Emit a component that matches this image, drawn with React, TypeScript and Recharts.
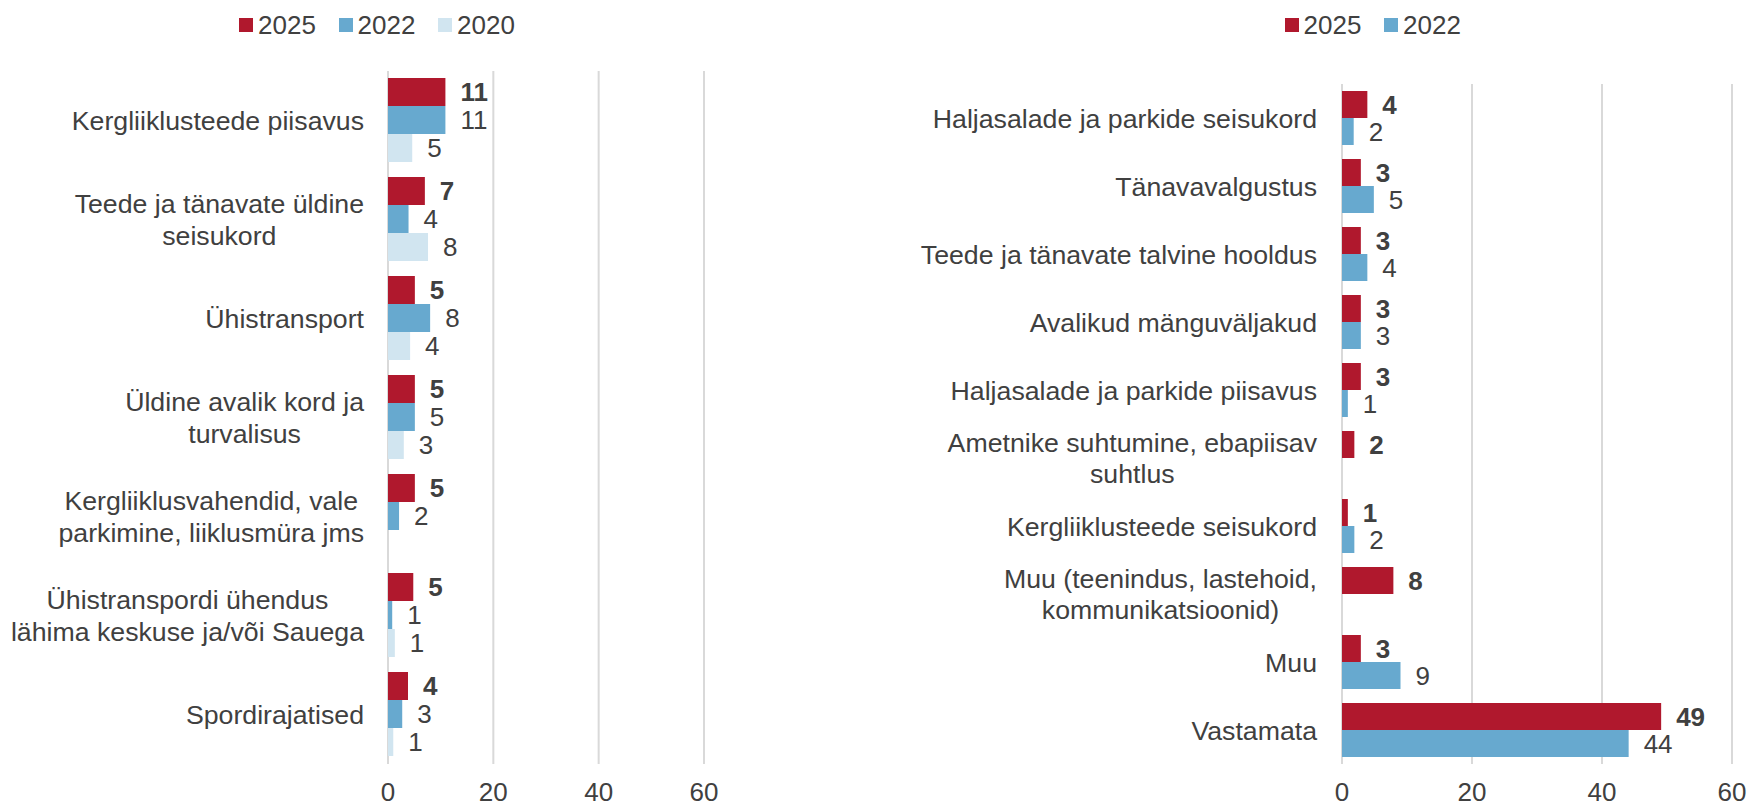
import React from 'react';
import { BarChart, Bar, XAxis, YAxis, CartesianGrid, LabelList, Legend } from 'recharts';

const FONT = "'Liberation Sans', Arial, Helvetica, sans-serif";
const TEXT = '#404040';
const GRID = '#d9d9d9';
const FS = 26;
const CAT_FS = 26.7;

// ---------- Left chart data ----------
const leftCategories = [
  'Kergliiklusteede piisavus',
  'Teede ja tänavate üldine\nseisukord',
  'Ühistransport',
  'Üldine avalik kord ja\nturvalisus',
  'Kergliiklusvahendid, vale\nparkimine, liiklusmüra jms',
  'Ühistranspordi ühendus\nlähima keskuse ja/või Sauega',
  'Spordirajatised',
];
const left2025 = [10.9, 7.0, 5.1, 5.1, 5.1, 4.8, 3.8];
const left2022 = [10.9, 3.9, 8.0, 5.1, 2.1, 0.8, 2.7];
const left2020 = [4.6, 7.6, 4.2, 3.0, null, 1.3, 1.0];

// ---------- Right chart data ----------
const rightCategories = [
  'Haljasalade ja parkide seisukord',
  'Tänavavalgustus',
  'Teede ja tänavate talvine hooldus',
  'Avalikud mänguväljakud',
  'Haljasalade ja parkide piisavus',
  'Ametnike suhtumine, ebapiisav\nsuhtlus',
  'Kergliiklusteede seisukord',
  'Muu (teenindus, lastehoid,\nkommunikatsioonid)',
  'Muu',
  'Vastamata',
];
const right2025 = [3.9, 2.9, 2.9, 2.9, 2.9, 1.9, 0.9, 7.9, 2.9, 49.1];
const right2022 = [1.8, 4.9, 3.9, 2.9, 0.9, null, 1.9, null, 9.0, 44.1];

const xTicks = [0, 20, 40, 60];
const seriesNames = ['2025', '2022', '2020'];
const seriesColors = ['#B0182D', '#67A9CF', '#D1E5F0'];

const leftData = leftCategories.map((name, i) => ({
  name,
  s2025: left2025[i],
  s2022: left2022[i],
  s2020: left2020[i],
}));
const rightData = rightCategories.map((name, i) => ({
  name,
  s2025: right2025[i],
  s2022: right2022[i],
}));

let ctx: CanvasRenderingContext2D | null = null;
function textWidth(s: string): number {
  if (!ctx && typeof document !== 'undefined') {
    ctx = document.createElement('canvas').getContext('2d');
  }
  if (!ctx) return s.length * CAT_FS * 0.5;
  ctx.font = `${CAT_FS}px ${FONT}`;
  return ctx.measureText(s).width;
}

function CategoryTick(props: any) {
  const { x, y, payload } = props;
  const lines = String(payload.value).split('\n');
  const w = Math.max(...lines.map(textWidth));
  const cx = x - w / 2;
  const lh = 31.5;
  const first = y + CAT_FS * 0.358 - ((lines.length - 1) * lh) / 2;
  return (
    <text textAnchor="middle" fontFamily={FONT} fontSize={CAT_FS} fill={TEXT}>
      {lines.map((l, i) => (
        <tspan key={i} x={cx} y={first + i * lh}>
          {l}
        </tspan>
      ))}
    </text>
  );
}

function makeValueLabel(bold: boolean) {
  return (props: any) => {
    const { x, y, width, height, value } = props;
    if (value === null || value === undefined) return null;
    return (
      <text
        x={Number(x) + Number(width) + 15}
        y={Number(y) + Number(height) / 2}
        dy="0.358em"
        textAnchor="start"
        fontFamily={FONT}
        fontSize={FS}
        fontWeight={bold ? 'bold' : 'normal'}
        fill={TEXT}
      >
        {Math.round(Number(value))}
      </text>
    );
  };
}

function LegendContent(props: any) {
  const payload = [...(props.payload || [])].sort(
    (a: any, b: any) => seriesNames.indexOf(String(a.value)) - seriesNames.indexOf(String(b.value))
  );
  return (
    <div style={{ display: 'flex', alignItems: 'center', height: 30 }}>
      {payload.map((p: any, i: number) => (
        <div key={i} style={{ display: 'flex', alignItems: 'center', width: 99.5 }}>
          <div style={{ width: 14, height: 14, background: p.color, marginRight: 5 }} />
          <span style={{ fontFamily: FONT, fontSize: FS, color: TEXT, lineHeight: '30px' }}>{p.value}</span>
        </div>
      ))}
    </div>
  );
}

export default function App() {
  return (
    <div style={{ position: 'absolute', left: 0, top: 0, width: 1750, height: 807, background: '#fff' }}>
      <div style={{ position: 'absolute', left: 0, top: 0 }}>
        <BarChart
          width={760}
          height={807}
          data={leftData}
          layout="vertical"
          margin={{ top: 71, right: 56, bottom: 0, left: 0 }}
          barCategoryGap={7}
          barGap={0}
        >
          <CartesianGrid horizontal={false} stroke={GRID} strokeWidth={2} />
          <XAxis
            type="number"
            domain={[0, 60]}
            ticks={xTicks}
            axisLine={false}
            tickLine={false}
            tickSize={0}
            tickMargin={19}
            height={43}
            tick={{ fontFamily: FONT, fontSize: FS, fill: TEXT }}
          />
          <YAxis
            type="category"
            dataKey="name"
            width={388}
            axisLine={false}
            tickLine={false}
            tickSize={0}
            tickMargin={24}
            interval={0}
            tick={<CategoryTick />}
          />
          <Legend
            layout="horizontal"
            verticalAlign="middle"
            align="center"
            wrapperStyle={{ position: 'absolute', top: 10, left: 239, width: 320, height: 30 }}
            content={<LegendContent />}
          />
          <Bar dataKey="s2025" name={seriesNames[0]} fill={seriesColors[0]} isAnimationActive={false}>
            <LabelList dataKey="s2025" content={makeValueLabel(true)} />
          </Bar>
          <Bar dataKey="s2022" name={seriesNames[1]} fill={seriesColors[1]} isAnimationActive={false}>
            <LabelList dataKey="s2022" content={makeValueLabel(false)} />
          </Bar>
          <Bar dataKey="s2020" name={seriesNames[2]} fill={seriesColors[2]} isAnimationActive={false}>
            <LabelList dataKey="s2020" content={makeValueLabel(false)} />
          </Bar>
        </BarChart>
      </div>
      <div style={{ position: 'absolute', left: 870, top: 0 }}>
        <BarChart
          width={880}
          height={807}
          data={rightData}
          layout="vertical"
          margin={{ top: 84, right: 18, bottom: 0, left: 0 }}
          barCategoryGap={7}
          barGap={0}
        >
          <CartesianGrid horizontal={false} stroke={GRID} strokeWidth={2} />
          <XAxis
            type="number"
            domain={[0, 60]}
            ticks={xTicks}
            axisLine={false}
            tickLine={false}
            tickSize={0}
            tickMargin={19}
            height={43}
            tick={{ fontFamily: FONT, fontSize: FS, fill: TEXT }}
          />
          <YAxis
            type="category"
            dataKey="name"
            width={472}
            axisLine={false}
            tickLine={false}
            tickSize={0}
            tickMargin={25}
            interval={0}
            tick={<CategoryTick />}
          />
          <Legend
            layout="horizontal"
            verticalAlign="middle"
            align="center"
            wrapperStyle={{ position: 'absolute', top: 10, left: 414.6, width: 220, height: 30 }}
            content={<LegendContent />}
          />
          <Bar dataKey="s2025" name={seriesNames[0]} fill={seriesColors[0]} isAnimationActive={false}>
            <LabelList dataKey="s2025" content={makeValueLabel(true)} />
          </Bar>
          <Bar dataKey="s2022" name={seriesNames[1]} fill={seriesColors[1]} isAnimationActive={false}>
            <LabelList dataKey="s2022" content={makeValueLabel(false)} />
          </Bar>
        </BarChart>
      </div>
    </div>
  );
}
